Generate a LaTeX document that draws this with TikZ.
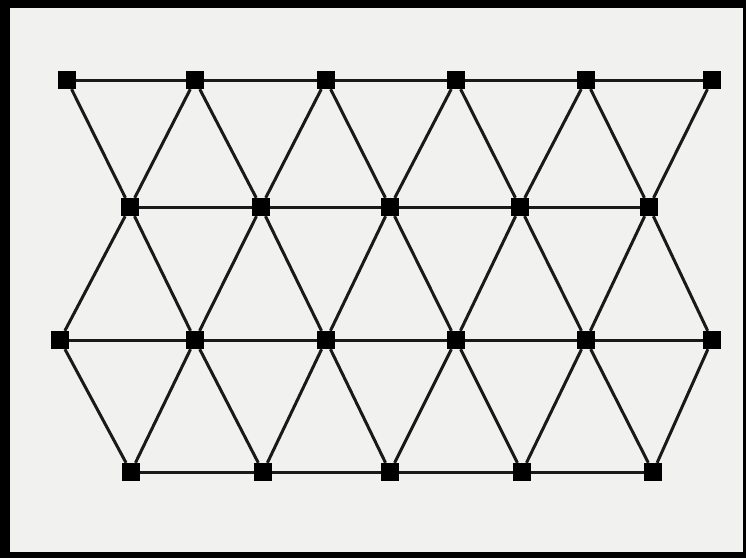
\documentclass[tikz,border=0pt]{standalone}
\usepackage{xcolor}
\usepackage{tikz}
\usetikzlibrary{positioning}
\definecolor{paper}{HTML}{F1F1EF}

\begin{document}
\begin{tikzpicture}[x=1pt, y=-1pt,
    joint/.style={rectangle, fill=black, inner sep=0pt, minimum size=18pt},
    bar/.style={line width=3pt, black!90}
  ]
    % frame and paper
    \fill[black] (0,0) rectangle (746,558);
    \fill[paper] (10,8) rectangle (743,552);
    \useasboundingbox (0,0) rectangle (746,558);

    % top chord
    \node[joint] (a1) at (67,80)  {};
    \node[joint] (a2) at (195,80) {};
    \node[joint] (a3) at (326,80) {};
    \node[joint] (a4) at (456,80) {};
    \node[joint] (a5) at (586,80) {};
    \node[joint] (a6) at (712,80) {};

    \node[joint] (b1) at (130,207) {};
    \node[joint] (b2) at (261,207) {};
    \node[joint] (b3) at (390,207) {};
    \node[joint] (b4) at (520,207) {};
    \node[joint] (b5) at (649,207) {};

    \node[joint] (c1) at (60,340)  {};
    \node[joint] (c2) at (195,340) {};
    \node[joint] (c3) at (326,340) {};
    \node[joint] (c4) at (456,340) {};
    \node[joint] (c5) at (586,340) {};
    \node[joint] (c6) at (712,340) {};

    % bottom chord
    \node[joint] (d1) at (131,472) {};
    \node[joint] (d2) at (263,472) {};
    \node[joint] (d3) at (390,472) {};
    \node[joint] (d4) at (522,472) {};
    \node[joint] (d5) at (653,472) {};

    \draw[bar] (a1) -- (a2) -- (a3) -- (a4) -- (a5) -- (a6);
    \draw[bar] (b1) -- (b2) -- (b3) -- (b4) -- (b5);
    \draw[bar] (c1) -- (c2) -- (c3) -- (c4) -- (c5) -- (c6);
    \draw[bar] (d1) -- (d2) -- (d3) -- (d4) -- (d5);

    \draw[bar] (a1) -- (b1) -- (a2) -- (b2) -- (a3) -- (b3) -- (a4) -- (b4) -- (a5) -- (b5) -- (a6);
    \draw[bar] (c1) -- (b1) -- (c2) -- (b2) -- (c3) -- (b3) -- (c4) -- (b4) -- (c5) -- (b5) -- (c6);
    \draw[bar] (c1) -- (d1) -- (c2) -- (d2) -- (c3) -- (d3) -- (c4) -- (d4) -- (c5) -- (d5) -- (c6);
  \end{tikzpicture}
\end{document}
